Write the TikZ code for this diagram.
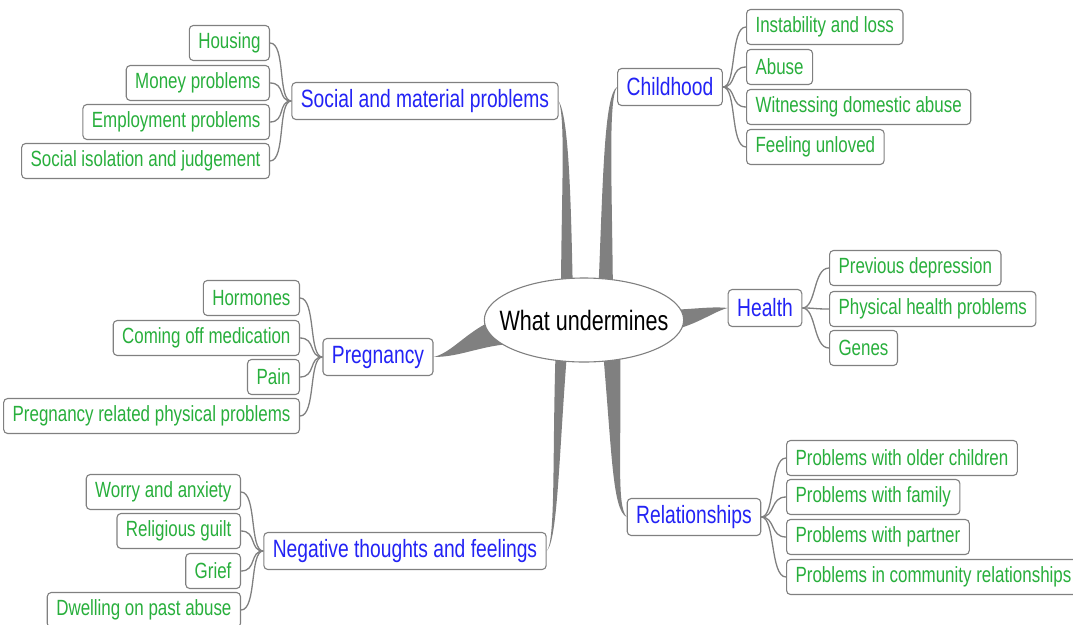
\documentclass[tikz,border=0pt]{standalone}
\usepackage{fontspec}
\setmainfont{Liberation Sans}[FakeStretch=0.77]
\usetikzlibrary{shapes.geometric,backgrounds}
\definecolor{leafgreen}{RGB}{40,175,60}
\definecolor{topblue}{RGB}{35,35,245}
\definecolor{linegray}{RGB}{128,128,128}
\begin{document}
\begin{tikzpicture}[x=1pt,y=-1pt,
  leaf/.style={draw=linegray, line width=1.1pt, rounded corners=4pt, fill=white,
    minimum height=35pt, inner xsep=9pt, inner ysep=0pt, text=leafgreen,
    font=\fontsize{22}{24}\selectfont},
  topic/.style={leaf, minimum height=37pt, text=topblue, font=\fontsize{25}{28}\selectfont},
  hub/.style={ellipse, draw=linegray, line width=1.1pt, fill=white, minimum width=198pt,
    minimum height=84pt, inner xsep=-14pt, inner ysep=0pt, font=\fontsize{28}{30}\selectfont},
  twig/.style={draw=linegray, line width=1.3pt},
  branch/.style={fill=linegray}]
\useasboundingbox (0,0) rectangle (1073,624);

\node[hub] (c) at (584,320) {What undermines};

% topics
\node[topic] (soc) at (425,101) {Social and material problems};
\node[topic] (chi) at (670,87) {Childhood};
\node[topic] (hea) at (765,308) {Health};
\node[topic] (pre) at (378,357) {Pregnancy};
\node[topic] (neg) at (405,551) {Negative thoughts and feelings};
\node[topic] (rel) at (694,517) {Relationships};

% social leaves
\node[leaf, anchor=east] (s1) at (270,43) {Housing};
\node[leaf, anchor=east] (s2) at (270,83) {Money problems};
\node[leaf, anchor=east] (s3) at (270,122) {Employment problems};
\node[leaf, anchor=east] (s4) at (270,161) {Social isolation and judgement};

% childhood leaves
\node[leaf, anchor=west] (h1) at (746,27) {Instability and loss};
\node[leaf, anchor=west] (h2) at (746,67) {Abuse};
\node[leaf, anchor=west] (h3) at (746,107) {Witnessing domestic abuse};
\node[leaf, anchor=west] (h4) at (746,147) {Feeling unloved};

% health leaves
\node[leaf, anchor=west] (e1) at (829,268) {Previous depression};
\node[leaf, anchor=west] (e2) at (829,309) {Physical health problems};
\node[leaf, anchor=west] (e3) at (829,348) {Genes};

% pregnancy leaves
\node[leaf, anchor=east] (p1) at (300,298) {Hormones};
\node[leaf, anchor=east] (p2) at (300,338) {Coming off medication};
\node[leaf, anchor=east] (p3) at (300,377) {Pain};
\node[leaf, anchor=east] (p4) at (300,416) {Pregnancy related physical problems};

% negative leaves
\node[leaf, anchor=east] (n1) at (241,492) {Worry and anxiety};
\node[leaf, anchor=east] (n2) at (241,531) {Religious guilt};
\node[leaf, anchor=east] (n3) at (241,571) {Grief};
\node[leaf, anchor=east] (n4) at (241,610) {Dwelling on past abuse};

% relationship leaves
\node[leaf, anchor=west] (r1) at (786,458) {Problems with older children};
\node[leaf, anchor=west] (r2) at (786,497) {Problems with family};
\node[leaf, anchor=west] (r3) at (786,537) {Problems with partner};
\node[leaf, anchor=west] (r4) at (786,577) {Problems in community relationships};

\begin{pgfonlayer}{background}
% main tapered branches
\fill[branch] (561,300) .. controls (561,200) and (566,120) .. (soc.east)
  .. controls (569,118) and (571,200) .. (573,300) -- cycle;
\fill[branch] (598,300) .. controls (603,180) and (604,95) .. (chi.west)
  .. controls (608,100) and (612,180) .. (613,300) -- cycle;
\fill[branch] (510,314) .. controls (470,325) and (455,352) .. (pre.east)
  .. controls (460,357) and (480,346) .. (510,344) -- cycle;
\fill[branch] (660,310) .. controls (690,310) and (710,306) .. (hea.west)
  .. controls (712,312) and (695,327) .. (660,333) -- cycle;
\fill[branch] (556,340) .. controls (552,450) and (556,540) .. (neg.east)
  .. controls (558,540) and (559,450) .. (568,340) -- cycle;
\fill[branch] (602,340) .. controls (612,450) and (612,510) .. (rel.west)
  .. controls (616,505) and (622,450) .. (620,340) -- cycle;

% thin connectors
\foreach \l in {s1,s2,s3,s4}
  \draw[twig] (soc.west) .. controls +(-14,0) and +(16,0) .. (\l.east);
\foreach \l in {p1,p2,p3,p4}
  \draw[twig] (pre.west) .. controls +(-14,0) and +(16,0) .. (\l.east);
\foreach \l in {n1,n2,n3,n4}
  \draw[twig] (neg.west) .. controls +(-14,0) and +(16,0) .. (\l.east);
\foreach \l in {h1,h2,h3,h4}
  \draw[twig] (chi.east) .. controls +(14,0) and +(-16,0) .. (\l.west);
\foreach \l in {e1,e2,e3}
  \draw[twig] (hea.east) .. controls +(14,0) and +(-16,0) .. (\l.west);
\foreach \l in {r1,r2,r3,r4}
  \draw[twig] (rel.east) .. controls +(14,0) and +(-16,0) .. (\l.west);
\end{pgfonlayer}
\end{tikzpicture}
\end{document}
